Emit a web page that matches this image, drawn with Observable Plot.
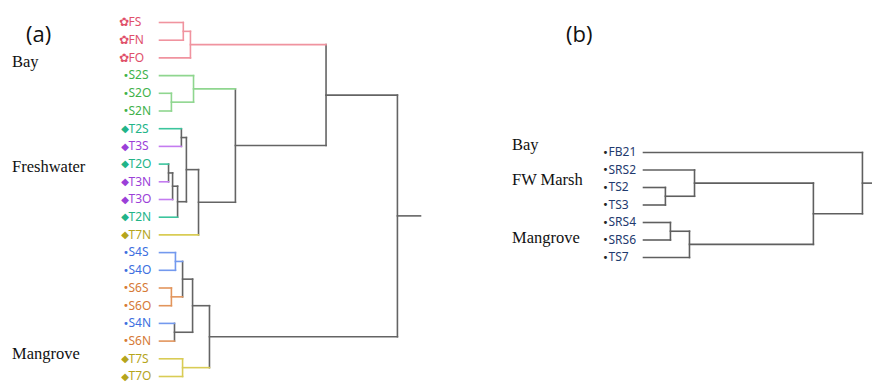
<!DOCTYPE html>
<html>
<head>
<meta charset="utf-8">
<script src="https://cdn.jsdelivr.net/npm/d3@7"></script>
<script src="https://cdn.jsdelivr.net/npm/@observablehq/plot@0.6"></script>
<style>
  html, body { margin: 0; padding: 0; background: #fff; }
  #wrap { position: relative; width: 872px; height: 383px; overflow: hidden; }
  .panel { position: absolute; top: 0; }
  .lbl { position: absolute; white-space: nowrap; transform: translateY(-50%); }
  .grp { font-family: "Liberation Serif", "Times New Roman", serif; font-size: 16.5px; color: #111; }
  .tag { font-family: "Open Sans", "Noto Sans", sans-serif; font-size: 22px; color: #111; }
</style>
</head>
<body>
<div id="wrap"></div>
<script>
// ---------- Panel (a) data ----------
const leavesA = ["FS","FN","FO","S2S","S2O","S2N","T2S","T3S","T2O","T3N","T3O","T2N","T7N",
                 "S4S","S4O","S6S","S6O","S4N","S6N","T7S","T7O"];
const groupsA = ["F","F","F","S2","S2","S2","T2","T3","T2","T3","T3","T2","T7",
                 "S4","S4","S6","S6","S4","S6","T7","T7"];
// linkage: [childA, childB, height]; leaves are 0..20, merged nodes 21..
const mergesA = [
  [0, 1, 0.10], [21, 2, 0.13],
  [4, 5, 0.05], [3, 23, 0.143],
  [6, 7, 0.092], [8, 9, 0.038], [26, 10, 0.055], [27, 11, 0.076],
  [25, 28, 0.113], [29, 12, 0.164],
  [24, 30, 0.319], [22, 31, 0.70],
  [13, 14, 0.067], [15, 16, 0.05], [33, 34, 0.097], [17, 18, 0.063],
  [35, 36, 0.139], [19, 20, 0.097], [37, 38, 0.21],
  [32, 39, 1.0]
];
const groupLabelsA = ["Bay", "Freshwater", "Mangrove"];
const groupRowsA = [2.25, 8.17, 18.76];

// ---------- Panel (b) data ----------
const leavesB = ["FB21","SRS2","TS2","TS3","SRS4","SRS6","TS7"];
const mergesB = [
  [2, 3, 0.10], [1, 7, 0.233],
  [4, 5, 0.123], [9, 6, 0.21],
  [8, 10, 0.776], [0, 11, 1.0]
];
const groupLabelsB = ["Bay", "FW Marsh", "Mangrove"];
const groupRowsB = [-0.4, 1.6, 4.9];

// ---------- styles ----------
const lineColor = {F: "#f0939f", S2: "#8fd68f", T2: "#3cc59d", T3: "#c47cf0", T7: "#d9cc55",
                   S4: "#7399ee", S6: "#e2955c", mixed: "#646464"};
const textColor = {F: "#e0506a", S2: "#3fb24a", T2: "#22b488", T3: "#9b3fd8", T7: "#b5a51c",
                   S4: "#3d6fe0", S6: "#d67a36"};
const markerGlyph = {F: "✿", S2: "•", T2: "◆", T3: "◆", T7: "◆", S4: "•", S6: "•"};
const markerSize = {F: 12, S2: 10, T2: 10, T3: 10, T7: 10, S4: 10, S6: 10};

// build segments from a linkage
function buildTree(leaves, groups, merges) {
  const nodes = leaves.map((name, i) => ({y: i, h: 0, group: groups ? groups[i] : "mixed"}));
  const segs = [];
  merges.forEach(([a, b, h]) => {
    const A = nodes[a], B = nodes[b];
    const g = (A.group === B.group) ? A.group : "mixed";
    const node = {y: (A.y + B.y) / 2, h, group: g};
    segs.push({x1: h, y1: A.y, x2: h, y2: B.y, c: g});
    segs.push({x1: A.h, y1: A.y, x2: h, y2: A.y, c: A.group});
    segs.push({x1: B.h, y1: B.y, x2: h, y2: B.y, c: B.group});
    nodes.push(node);
  });
  return {nodes, segs, root: nodes[nodes.length - 1]};
}

const wrap = document.getElementById("wrap");

// ---------- Panel (a) ----------
{
  const W = 440, H = 383;
  const xDom = [0, 1.097], xRange = [159, 420];
  const yDom = [0, leavesA.length - 1], yRange = [22, 376];
  const t = buildTree(leavesA, groupsA, mergesA);
  t.segs.push({x1: t.root.h, y1: t.root.y, x2: xDom[1], y2: t.root.y, c: "mixed"});
  const leafData = leavesA.map((name, i) => ({name, i, g: groupsA[i]}));
  const plot = Plot.plot({
    width: W, height: H,
    margin: 0,
    x: {domain: xDom, range: xRange, axis: null},
    y: {domain: yDom, range: yRange, axis: null},
    color: {type: "identity"},
    marks: [
      Plot.link(t.segs, {x1: "x1", y1: "y1", x2: "x2", y2: "y2",
        stroke: d => lineColor[d.c], strokeWidth: 1.6, strokeLinecap: "square"}),
      Plot.text(leafData, {x: () => 0, y: "i", text: "name", textAnchor: "start", dx: -31,
        fill: d => textColor[d.g], fontSize: 12, fontFamily: "Noto Sans, Open Sans, sans-serif"}),
      Plot.text(leafData, {x: () => 0, y: "i", text: d => markerGlyph[d.g], textAnchor: "end", dx: -30.5,
        fill: d => textColor[d.g], fontSize: d => markerSize[d.g],
        fontFamily: "DejaVu Sans, sans-serif"})
    ]
  });
  plot.classList.add("panel");
  plot.style.left = "0px";
  wrap.appendChild(plot);
  const ys = d3.scaleLinear(yDom, yRange);
  groupLabelsA.forEach((s, k) => {
    const d = document.createElement("div");
    d.className = "lbl grp"; d.textContent = s;
    d.style.left = "12px"; d.style.top = ys(groupRowsA[k]) + "px";
    wrap.appendChild(d);
  });
  const tag = document.createElement("div");
  tag.className = "lbl tag"; tag.textContent = "(a)";
  tag.style.left = "26px"; tag.style.top = "33px";
  wrap.appendChild(tag);
}

// ---------- Panel (b) ----------
{
  const L = 440, W = 432, H = 383;
  const xDom = [0, 1.046], xRange = [643 - L, 432];
  const yDom = [0, leavesB.length - 1], yRange = [152, 257];
  const t = buildTree(leavesB, null, mergesB);
  t.segs.push({x1: t.root.h, y1: t.root.y, x2: xDom[1], y2: t.root.y, c: "mixed"});
  const leafData = leavesB.map((name, i) => ({name, i}));
  const plot = Plot.plot({
    width: W, height: H,
    margin: 0,
    x: {domain: xDom, range: xRange, axis: null},
    y: {domain: yDom, range: yRange, axis: null},
    marks: [
      Plot.link(t.segs, {x1: "x1", y1: "y1", x2: "x2", y2: "y2",
        stroke: "#5f5f5f", strokeWidth: 1.6, strokeLinecap: "square"}),
      Plot.text(leafData, {x: () => 0, y: "i", text: "name", textAnchor: "start", dx: -35,
        fill: "#1f3a6e", fontSize: 12, fontFamily: "Noto Sans, Open Sans, sans-serif"}),
      Plot.text(leafData, {x: () => 0, y: "i", text: () => "•", textAnchor: "end", dx: -35,
        fill: "#222", fontSize: 10, fontFamily: "DejaVu Sans, sans-serif"})
    ]
  });
  plot.classList.add("panel");
  plot.style.left = L + "px";
  wrap.appendChild(plot);
  const ys = d3.scaleLinear(yDom, yRange);
  groupLabelsB.forEach((s, k) => {
    const d = document.createElement("div");
    d.className = "lbl grp"; d.textContent = s;
    d.style.left = "512px"; d.style.top = ys(groupRowsB[k]) + "px";
    wrap.appendChild(d);
  });
  const tag = document.createElement("div");
  tag.className = "lbl tag"; tag.textContent = "(b)";
  tag.style.left = "566px"; tag.style.top = "33px";
  wrap.appendChild(tag);
}
</script>
</body>
</html>
